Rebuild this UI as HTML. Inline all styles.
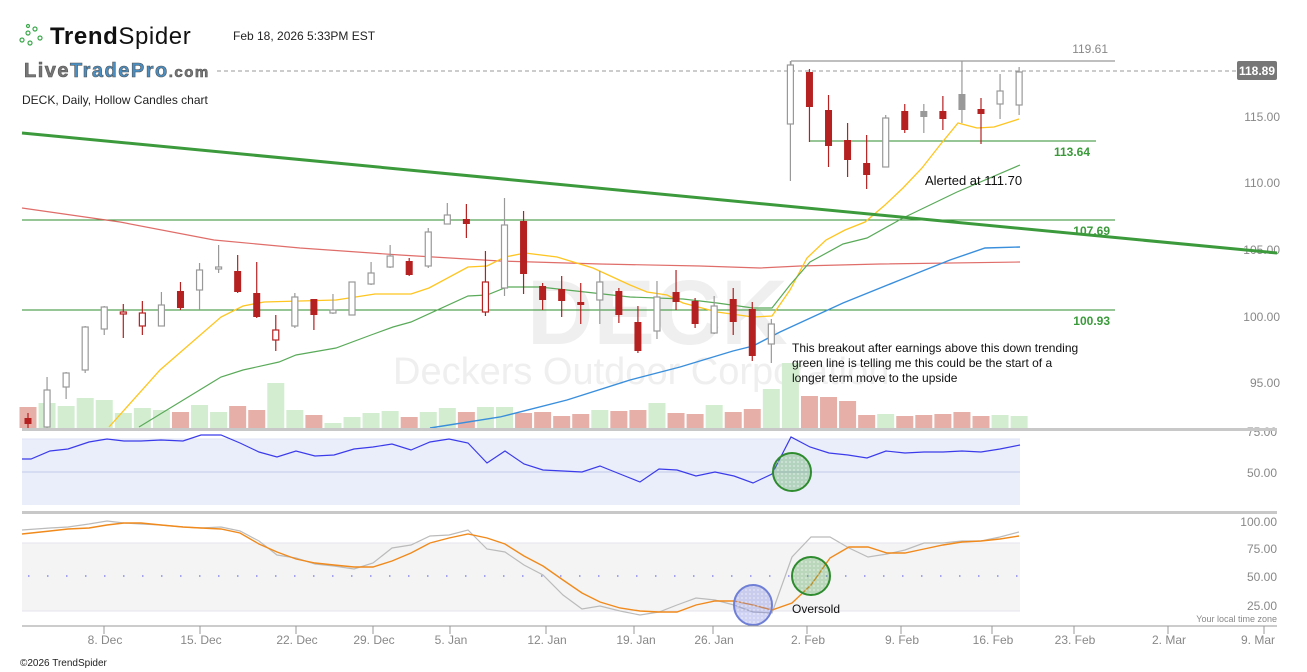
<!DOCTYPE html>
<html><head><meta charset="utf-8"><style>
html,body{margin:0;padding:0;background:#fff;}
svg{display:block;font-family:"Liberation Sans",sans-serif;}
</style></head><body>
<svg id="c" width="1307" height="672" viewBox="0 0 1307 672" xmlns="http://www.w3.org/2000/svg">
<rect width="1307" height="672" fill="#fff"/>
<defs>
<pattern id="dotg" width="4" height="4" patternUnits="userSpaceOnUse"><rect width="4" height="4" fill="rgba(80,160,80,0.35)"/><circle cx="2" cy="2" r="0.6" fill="#fff"/></pattern>
<pattern id="dotb" width="4" height="4" patternUnits="userSpaceOnUse"><rect width="4" height="4" fill="rgba(120,130,220,0.35)"/><circle cx="2" cy="2" r="0.6" fill="#fff"/></pattern>
</defs>
<g fill="none" stroke="#3aa84a" stroke-width="1.2">
<circle cx="22" cy="40" r="2"/><circle cx="28" cy="33" r="2"/><circle cx="30" cy="43" r="2"/><circle cx="35" cy="29" r="2"/><circle cx="40" cy="38" r="2"/><circle cx="28" cy="26" r="1.5"/>
</g>
<text x="50" y="44" font-size="24" fill="#111" letter-spacing="0.6"><tspan font-weight="bold">Trend</tspan>Spider</text>
<text x="233" y="40" font-size="12" fill="#222">Feb 18, 2026 5:33PM EST</text>
<text x="24" y="77" font-size="20" font-weight="bold" fill="#777" stroke="#555" stroke-width="0.6" letter-spacing="1.5">Live<tspan fill="#4a8fc4">TradePro</tspan><tspan font-size="15">.com</tspan></text>
<text x="22" y="104" font-size="12" fill="#222">DECK, Daily, Hollow Candles chart</text>
<text x="527" y="344" font-size="92" font-weight="bold" fill="#efefef">DECK</text>
<text x="393" y="384" font-size="38" fill="#efefef">Deckers Outdoor Corporation</text>
<line x1="217" y1="71" x2="1237" y2="71" stroke="#999" stroke-dasharray="4,3"/>
<rect x="1237" y="61" width="40" height="19" rx="2" fill="#777"/>
<text x="1257" y="75" font-size="12" font-weight="bold" fill="#fff" text-anchor="middle">118.89</text>
<line x1="791" y1="61" x2="1115" y2="61" stroke="#aaa" stroke-width="1.5"/>
<text x="1108" y="53" font-size="12" fill="#888" text-anchor="end">119.61</text>
<line x1="809" y1="141" x2="1096" y2="141" stroke="#2e8b2e"/>
<text x="1090" y="156" font-size="12" font-weight="bold" fill="#3a9a3a" text-anchor="end">113.64</text>
<line x1="22" y1="220" x2="1115" y2="220" stroke="#2e8b2e"/>
<text x="1110" y="235" font-size="12" font-weight="bold" fill="#3a9a3a" text-anchor="end">107.69</text>
<line x1="22" y1="310" x2="1115" y2="310" stroke="#2e8b2e"/>
<text x="1110" y="325" font-size="12" font-weight="bold" fill="#3a9a3a" text-anchor="end">100.93</text>
<g font-size="12" fill="#888" text-anchor="end">
<text x="1280" y="121">115.00</text><text x="1280" y="187">110.00</text><text x="1280" y="254">105.00</text><text x="1280" y="321">100.00</text><text x="1280" y="387">95.00</text>
<text x="1277" y="436">75.00</text><text x="1277" y="477">50.00</text>
<text x="1277" y="526">100.00</text><text x="1277" y="553">75.00</text><text x="1277" y="581">50.00</text><text x="1277" y="610">25.00</text>
</g>
<text x="1277" y="622" font-size="9" fill="#888" text-anchor="end">Your local time zone</text>
<g id="vol"></g>
<g id="ma"></g>
<g id="cand"></g>
<line x1="22" y1="133" x2="1277" y2="253" stroke="#3c9a3c" stroke-width="3"/>
<text x="925" y="185" font-size="13" fill="#111">Alerted at 111.70</text>
<g font-size="12" fill="#111">
<text x="792" y="352">This breakout after earnings above this down trending</text>
<text x="792" y="367">green line is telling me this could be the start of a</text>
<text x="792" y="382">longer term move to the upside</text>
</g>
<rect x="22" y="428" width="1255" height="3" fill="#c8c8c8"/>
<rect x="22" y="511" width="1255" height="3" fill="#c8c8c8"/>
<rect x="22" y="439" width="998" height="66" fill="#eaeefb"/>
<line x1="22" y1="439" x2="1020" y2="439" stroke="#dde2f5"/>
<line x1="22" y1="472" x2="1020" y2="472" stroke="#d0d5f0" stroke-width="1.5"/>
<polyline fill="none" stroke="#3b3bea" stroke-width="1.2" points="22,459 31,459 50,451 68,449 89,442 107,439 124,441 141,441 161,440 183,441 201,435 221,435 240,443 259,452 277,457 296,451 315,456 334,455 354,449 373,447 392,444 411,450 430,442 449,439 468,443 487,463 505,451 524,464 543,470 563,471 582,472 600,466 620,474 640,482 659,469 677,470 696,476 715,472 734,476 753,483 772,474 791,437 810,447 829,453 848,455 867,458 886,451 905,453 924,452 943,452 962,451 981,452 1000,449 1020,445"/>
<ellipse cx="792" cy="472" rx="19" ry="19" fill="url(#dotg)" stroke="#2e8b2e" stroke-width="2"/>
<rect x="22" y="543" width="998" height="68" fill="#f4f4f4"/>
<line x1="22" y1="543" x2="1020" y2="543" stroke="#e6e6ee"/>
<line x1="22" y1="611" x2="1020" y2="611" stroke="#e6e6ee"/>
<line x1="28" y1="576" x2="1020" y2="576" stroke="#8888ee" stroke-width="1.5" stroke-dasharray="1.5,17.5"/>
<polyline fill="none" stroke="#bbb" stroke-width="1.2" points="22,530 50,528 68,527 89,524 107,521 124,523 141,524 161,525 183,527 201,528 221,527 240,531 259,541 277,555 296,558 315,564 334,566 354,569 373,563 392,548 411,545 430,536 449,535 468,530 487,549 505,552 524,565 543,575 563,595 582,609 600,606 620,611 640,615 659,612 677,605 696,598 715,600 734,605 753,612 772,613 792,557 811,537 830,537 849,548 868,557 887,554 905,550 924,543 943,543 962,541 981,541 1000,537 1019,532"/>
<polyline fill="none" stroke="#f08a1c" stroke-width="1.4" points="22,534 50,531 68,529 89,528 107,525 124,523 141,523 161,525 183,527 201,528 221,529 240,533 259,544 277,552 296,559 315,563 334,565 354,567 373,567 392,561 411,553 430,543 449,538 468,534 487,538 505,544 524,556 543,566 563,580 582,593 600,602 620,608 640,611 659,612 677,612 696,605 715,601 734,601 753,605 772,610 792,603 811,585 830,558 849,547 868,547 887,553 905,553 924,549 943,545 962,542 981,541 1000,539 1019,536"/>
<ellipse cx="753" cy="605" rx="19" ry="20" fill="url(#dotb)" stroke="#6f7fd6" stroke-width="2"/>
<ellipse cx="811" cy="576" rx="19" ry="19" fill="url(#dotg)" stroke="#2e8b2e" stroke-width="2"/>
<text x="792" y="613" font-size="12" fill="#111">Oversold</text>
<line x1="22" y1="626" x2="1277" y2="626" stroke="#999"/>
<g stroke="#999">
<line x1="104" y1="626" x2="104" y2="634"/><line x1="200" y1="626" x2="200" y2="634"/><line x1="296" y1="626" x2="296" y2="634"/><line x1="373" y1="626" x2="373" y2="634"/><line x1="450" y1="626" x2="450" y2="634"/><line x1="546" y1="626" x2="546" y2="634"/><line x1="634" y1="626" x2="634" y2="634"/><line x1="713" y1="626" x2="713" y2="634"/><line x1="807" y1="626" x2="807" y2="634"/><line x1="901" y1="626" x2="901" y2="634"/><line x1="992" y1="626" x2="992" y2="634"/><line x1="1074" y1="626" x2="1074" y2="634"/><line x1="1168" y1="626" x2="1168" y2="634"/><line x1="1264" y1="626" x2="1264" y2="634"/>
</g>
<g font-size="12" fill="#888" text-anchor="middle">
<text x="105" y="644">8. Dec</text><text x="201" y="644">15. Dec</text><text x="297" y="644">22. Dec</text><text x="374" y="644">29. Dec</text><text x="451" y="644">5. Jan</text><text x="547" y="644">12. Jan</text><text x="636" y="644">19. Jan</text><text x="714" y="644">26. Jan</text><text x="808" y="644">2. Feb</text><text x="902" y="644">9. Feb</text><text x="993" y="644">16. Feb</text><text x="1075" y="644">23. Feb</text><text x="1169" y="644">2. Mar</text><text x="1258" y="644">9. Mar</text>
</g>
<text x="20" y="666" font-size="10" fill="#222">©2026 TrendSpider</text>
</svg>
<script>
var C=[["r",418,424,413,428],["h",390,427,377,428],["h",373,387,372,399],["h",327,370,326,373],["h",307,329,306,335],["rh",312,314,304,338],["rh",313,326,301,335],["h",305,326,292,326],["r",291,308,282,310],["h",270,290,263,310],["h",267,269,245,273],["r",271,292,255,293],["r",293,317,262,318],["rh",330,340,315,351],["h",297,326,293,328],["r",299,315,299,330],["h",310,313,294,314],["h",282,315,282,315],["h",273,284,262,285],["h",256,267,245,268],["r",261,275,258,276],["h",232,266,228,268],["h",215,224,203,224],["r",219,224,204,238],["rh",282,312,251,316],["h",225,288,198,296],["r",221,274,211,294],["r",286,300,283,310],["r",289,301,276,317],["r",302,305,283,324],["h",282,300,271,324],["r",291,315,288,323],["r",322,351,306,353],["h",297,331,281,339],["r",292,302,270,310],["r",301,324,298,328],["h",306,333,296,334],["r",299,322,288,335],["r",309,356,302,361],["h",324,344,319,363],["h",65,124,61,181],["r",72,107,69,142],["r",110,146,95,167],["r",140,160,123,177],["r",163,175,135,189],["h",118,167,115,167],["r",111,130,104,133],["g",111,117,104,133],["r",111,119,96,130],["g",94,110,61,123],["r",109,114,98,144],["h",91,104,74,119],["h",72,105,67,115]];
var V=[["r",407],["g",403],["g",406],["g",398],["g",400],["g",413],["g",408],["g",410],["r",412],["g",405],["g",412],["r",406],["r",410],["g",383],["g",410],["r",415],["g",423],["g",417],["g",413],["g",411],["r",417],["g",412],["g",408],["r",412],["g",407],["g",407],["r",413],["r",412],["r",416],["r",414],["g",410],["r",411],["r",410],["g",403],["r",413],["r",414],["g",405],["r",412],["r",409],["g",389],["g",363],["r",396],["r",397],["r",401],["r",415],["g",414],["r",416],["r",415],["r",414],["r",412],["r",416],["g",415],["g",416]];
var s="",v="";
for(var i=0;i<C.length;i++){var x=28+19.06*i,c=C[i],t=c[0];
var col=(t=="r"||t=="rh")?"#b52020":"#999";
s+='<line x1="'+x+'" y1="'+c[3]+'" x2="'+x+'" y2="'+c[4]+'" stroke="'+col+'" stroke-width="1.2"/>';
var h=Math.max(c[2]-c[1],1.5);
if(t=="r"||t=="g")s+='<rect x="'+(x-3.5)+'" y="'+c[1]+'" width="7" height="'+h+'" fill="'+(t=="g"?"#999":"#b52020")+'"/>';
else s+='<rect x="'+(x-3)+'" y="'+c[1]+'" width="6" height="'+h+'" fill="#fff" stroke="'+col+'" stroke-width="1.2"/>';
var b=V[i];v+='<rect x="'+(x-8.5)+'" y="'+b[1]+'" width="17" height="'+(428-b[1])+'" fill="'+(b[0]=="g"?"#d3edd0":"#e6b0a8")+'"/>';}
document.getElementById("cand").innerHTML=s;
document.getElementById("vol").innerHTML=v;
var m='';
m+='<polyline fill="none" stroke="#d9534f" stroke-width="1.2" opacity="0.85" points="22,208 120,222 214,240 300,248 400,255 500,261 600,264 700,266 760,268 800,266 880,264 1020,262"/>';
m+='<polyline fill="none" stroke="#3a8fdc" stroke-width="1.4" points="430,428 500,417 567,400 630,380 680,367 733,351 753,346 780,332 843,303 900,280 950,260 985,248 1020,247"/>';
m+='<polyline fill="none" stroke="#ffc520" stroke-width="1.3" points="109,427 160,370 221,317 243,306 264,302 336,300 375,294 411,294 429,288 468,267 487,266 505,257 525,253 557,257 593,268 630,285 647,292 667,295 683,303 717,312 753,317 772,316 790,290 807,258 826,240 845,230 865,222 885,205 903,188 922,168 940,145 958,123 977,128 994,127 1019,119"/>';
m+='<polyline fill="none" stroke="#5aaa5a" stroke-width="1.2" points="139,427 180,402 221,377 243,370 279,362 296,355 336,348 371,335 393,327 411,322 468,296 487,295 507,287 525,287 540,287 630,297 683,299 717,303 753,308 772,308 790,285 810,262 843,244 867,238 903,218 957,192 1020,165"/>';
m+='<line x1="791" y1="61" x2="791" y2="66" stroke="#999"/>';
document.getElementById("ma").innerHTML=m;
</script>
</body></html>
